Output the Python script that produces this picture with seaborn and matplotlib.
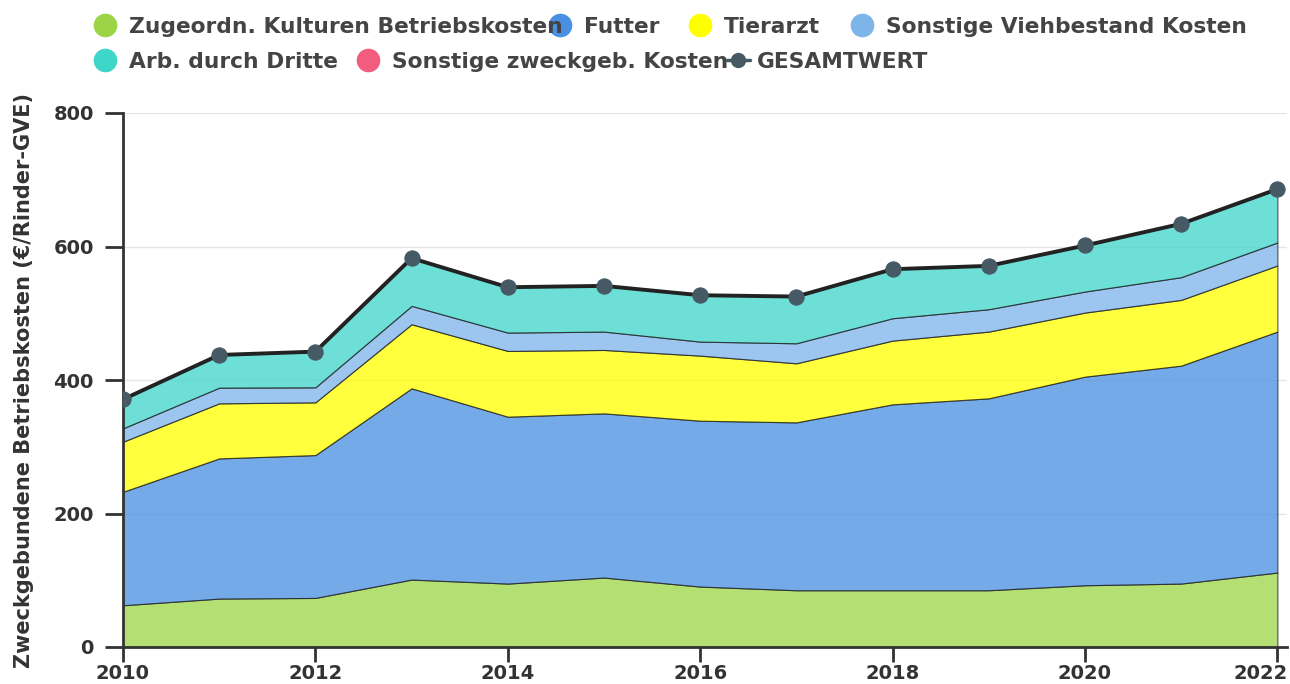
import pandas as pd
import matplotlib
matplotlib.use("Agg")
import matplotlib.pyplot as plt
import matplotlib.transforms as mtransforms
from matplotlib.lines import Line2D
import seaborn as sns

# values (€/Rinder-GVE)
years = list(range(2010, 2023))
kulturen = [62.5, 72.5, 73.5, 101, 95, 104, 90.5, 85, 85, 85, 92.5, 95, 111.5]
futter = [170, 210, 214, 286.5, 250, 246, 248.5, 251.5, 278.5, 287.5, 312.5, 326.5, 361]
tierarzt = [75, 82.5, 79, 96, 98.5, 95, 97.5, 88.5, 95.5, 100, 96, 98.5, 99]
vieh_sonst = [20, 23.5, 22.5, 27.5, 27.5, 27.5, 21, 30, 33.5, 33.5, 31.5, 34, 34.5]
arb_dritte = [43.5, 49, 53.5, 71.5, 68, 68.5, 69.5, 70, 73.5, 65, 69, 80, 80]
sonst_zweck = [0, 0, 0, 0, 0, 0, 0, 0, 0, 0, 0, 0, 0]

labels = ["Zugeordn. Kulturen Betriebskosten", "Futter", "Tierarzt",
          "Sonstige Viehbestand Kosten", "Arb. durch Dritte",
          "Sonstige zweckgeb. Kosten"]
colors = ["#9bd547", "#4a90e2", "#ffff00", "#7db5eb", "#3fd6ca", "#f25c7f"]

df = pd.DataFrame({"Jahr": years,
                   labels[0]: kulturen, labels[1]: futter, labels[2]: tierarzt,
                   labels[3]: vieh_sonst, labels[4]: arb_dritte, labels[5]: sonst_zweck})
df["GESAMTWERT"] = df[labels].sum(axis=1)

sns.set_theme(style="white")
plt.rcParams['font.family'] = ['DejaVu Sans']

W, H = 1290, 684
fig = plt.figure(figsize=(W / 100, H / 100), dpi=100)
ax = fig.add_axes([123 / W, 37 / H, (1287 - 123) / W, 534 / H])

ax.stackplot(df["Jahr"], *[df[c] for c in labels], colors=colors, alpha=0.76,
             edgecolor="#222222", linewidth=0.8)
sns.lineplot(data=df, x="Jahr", y="GESAMTWERT", ax=ax, color="#222222", linewidth=2.8,
             marker="o", markersize=11, markerfacecolor="#455a64",
             markeredgecolor="#455a64", zorder=5)

ax.set_xlim(2010, 2022.1)
ax.set_ylim(0, 800)
ax.set_xticks(range(2010, 2023, 2))
ax.set_yticks(range(0, 801, 200))
ax.grid(axis="y", color="#e6e6e6", linewidth=1)
ax.set_axisbelow(True)
for s in ["top", "right"]:
    ax.spines[s].set_visible(False)
for s in ["left", "bottom"]:
    ax.spines[s].set_color("#333333")
    ax.spines[s].set_linewidth(2)
ax.tick_params(axis="both", direction="out", width=2, color="#333333",
               labelsize=14, labelcolor="#333333")
ax.tick_params(axis="x", length=11, pad=1)
ax.tick_params(axis="y", length=13, pad=8)
ax.tick_params(left=True, bottom=True)
for t in ax.get_xticklabels() + ax.get_yticklabels():
    t.set_fontweight("bold")
# last year label is pushed left so it stays inside the figure
last = ax.get_xticklabels()[-1]
last.set_transform(last.get_transform() + mtransforms.ScaledTranslation(-17 / 100, 0, fig.dpi_scale_trans))
ax.set_xlabel("")
ax.set_ylabel("Zweckgebundene Betriebskosten (€/Rinder-GVE)", fontsize=15,
              fontweight="bold", color="#333333", labelpad=14)

# legend laid out in two flowing rows like the original
legend_items = [
    (labels[0], colors[0], 105, 25), (labels[1], colors[1], 560, 25),
    (labels[2], colors[2], 700, 25), (labels[3], colors[3], 862, 25),
    (labels[4], colors[4], 105, 60), (labels[5], colors[5], 368, 60),
]
for name, c, x, y in legend_items:
    fig.add_artist(Line2D([x / W], [1 - y / H], transform=fig.transFigure, marker="o",
                          markersize=16, color=c, linestyle="none"))
    fig.text((x + 24) / W, 1 - y / H, name, fontsize=15.7, fontweight="bold",
             color="#444444", va="center_baseline", ha="left")
fig.add_artist(Line2D([727 / W, 750 / W], [1 - 60 / H, 1 - 60 / H], transform=fig.transFigure,
                      color="#455a64", linewidth=2.5))
fig.add_artist(Line2D([738 / W], [1 - 60 / H], transform=fig.transFigure, marker="o",
                      markersize=10, color="#455a64", linestyle="none"))
fig.text(757 / W, 1 - 60 / H, "GESAMTWERT", fontsize=15.7, fontweight="bold",
         color="#444444", va="center_baseline", ha="left")

fig.savefig("out.png", dpi=100)
